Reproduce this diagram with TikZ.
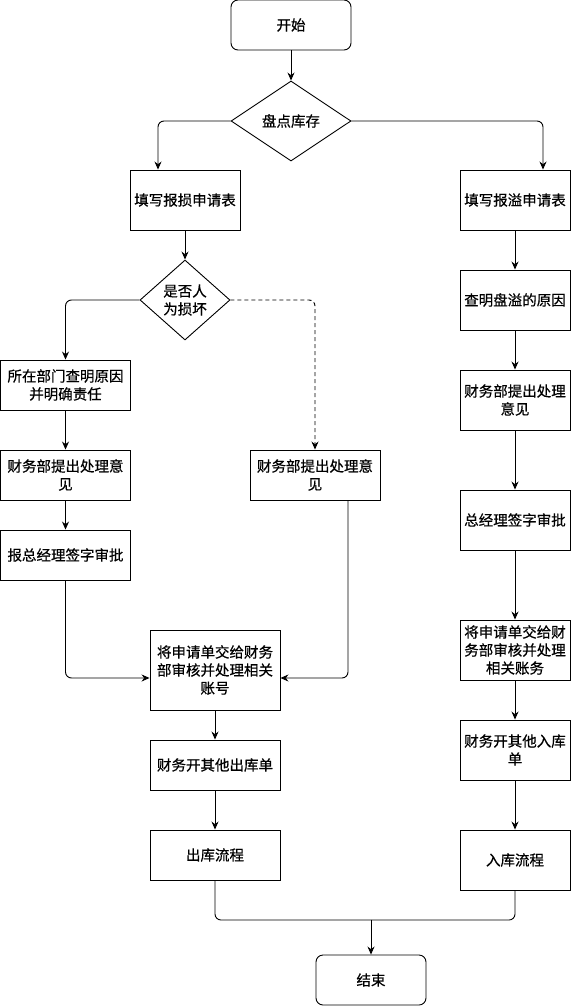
\documentclass[tikz,border=0pt]{standalone}
\usepackage{fontspec}
\newfontfamily\cjk[FakeBold=0.6]{Noto Sans CJK SC}
\usepackage{tikz}
\usetikzlibrary{shapes.geometric, arrows.meta}

\tikzset{
  box/.style={draw, rectangle, align=center, inner sep=1pt,
    font=\cjk\fontsize{14.5pt}{18pt}\selectfont},
  term/.style={box, rounded corners=7pt},
  choice/.style={box, diamond, inner sep=0pt},
  flow/.style={->, rounded corners=6pt}
}

\begin{document}
\begin{tikzpicture}[>={Stealth[length=8pt,width=7pt]}, x=1pt, y=-1pt, line width=0.9pt]
    \useasboundingbox (0,0) rectangle (571,1006);

    % 1. Bắt đầu và kiểm kê
    \node[term, minimum width=120pt, minimum height=50pt] (start) at (291,25) {开始};
    \node[choice, minimum width=120pt, minimum height=80pt] (stock) at (291,121) {盘点库存};

    % 2. Nhánh trái: báo hỏng
    \node[box, minimum width=110pt, minimum height=60pt] (lossform) at (185,200) {填写报损申请表};
    \node[choice, minimum width=90pt, minimum height=80pt, aspect=1.1] (human) at (185,300) {是否人\\为损坏};
    \node[box, minimum width=130pt, minimum height=50pt] (dept) at (65.5,385) {所在部门查明原因\\并明确责任};
    \node[box, minimum width=130pt, minimum height=50pt] (finL) at (65.5,475) {财务部提出处理意\\见};
    \node[box, minimum width=130pt, minimum height=50pt] (boss) at (65.5,555) {报总经理签字审批};
    \node[box, minimum width=130pt, minimum height=50pt] (finM) at (315,475) {财务部提出处理意\\见};
    \node[box, minimum width=130pt, minimum height=80pt] (submitL) at (215,670) {将申请单交给财务\\部审核并处理相关\\账号};
    \node[box, minimum width=130pt, minimum height=50pt] (outbill) at (215,765) {财务开其他出库单};
    \node[box, minimum width=130pt, minimum height=50pt] (outflow) at (215,855) {出库流程};

    % 3. Nhánh phải: báo thừa
    \node[box, minimum width=110pt, minimum height=60pt] (overform) at (515,200) {填写报溢申请表};
    \node[box, minimum width=110pt, minimum height=60pt] (check) at (515,300) {查明盘溢的原因};
    \node[box, minimum width=110pt, minimum height=60pt] (finR) at (515,400) {财务部提出处理\\意见};
    \node[box, minimum width=110pt, minimum height=60pt] (bossR) at (515,520) {总经理签字审批};
    \node[box, minimum width=110pt, minimum height=60pt] (submitR) at (515,650) {将申请单交给财\\务部审核并处理\\相关账务};
    \node[box, minimum width=110pt, minimum height=60pt] (inbill) at (515,750) {财务开其他入库\\单};
    \node[box, minimum width=110pt, minimum height=60pt] (inflow) at (515,860) {入库流程};

    % 4. Kết thúc
    \node[term, minimum width=110pt, minimum height=50pt] (end) at (371,980) {结束};
    \coordinate (join) at (371,920);

    % 5. Các mũi tên
    \draw[->] (start) -- (stock);
    \draw[flow] (stock.west) -| ([xshift=-27pt]lossform.north);
    \draw[flow] (stock.east) -| ([xshift=28pt]overform.north);

    \draw[->] (lossform) -- (human);
    \draw[flow] (human.west) -| (dept.north);
    \draw[flow, dash pattern=on 4pt off 3pt] (human.east) -| (finM.north);
    \draw[->] (dept) -- (finL);
    \draw[->] (finL) -- (boss);
    \draw[flow] (boss.south) |- ([yshift=-8pt]submitL.west);
    \draw[flow] ([xshift=33pt]finM.south) |- ([yshift=-8pt]submitL.east);
    \draw[->] (submitL) -- (outbill);
    \draw[->] (outbill) -- (outflow);

    \draw[->] (overform) -- (check);
    \draw[->] (check) -- (finR);
    \draw[->] (finR) -- (bossR);
    \draw[->] (bossR) -- (submitR);
    \draw[->] (submitR) -- (inbill);
    \draw[->] (inbill) -- (inflow);

    \draw[rounded corners=6pt] (outflow.south) |- (join);
    \draw[rounded corners=6pt] (inflow.south) |- (join);
    \draw[->] (join) -- (end);

\end{tikzpicture}
\end{document}
